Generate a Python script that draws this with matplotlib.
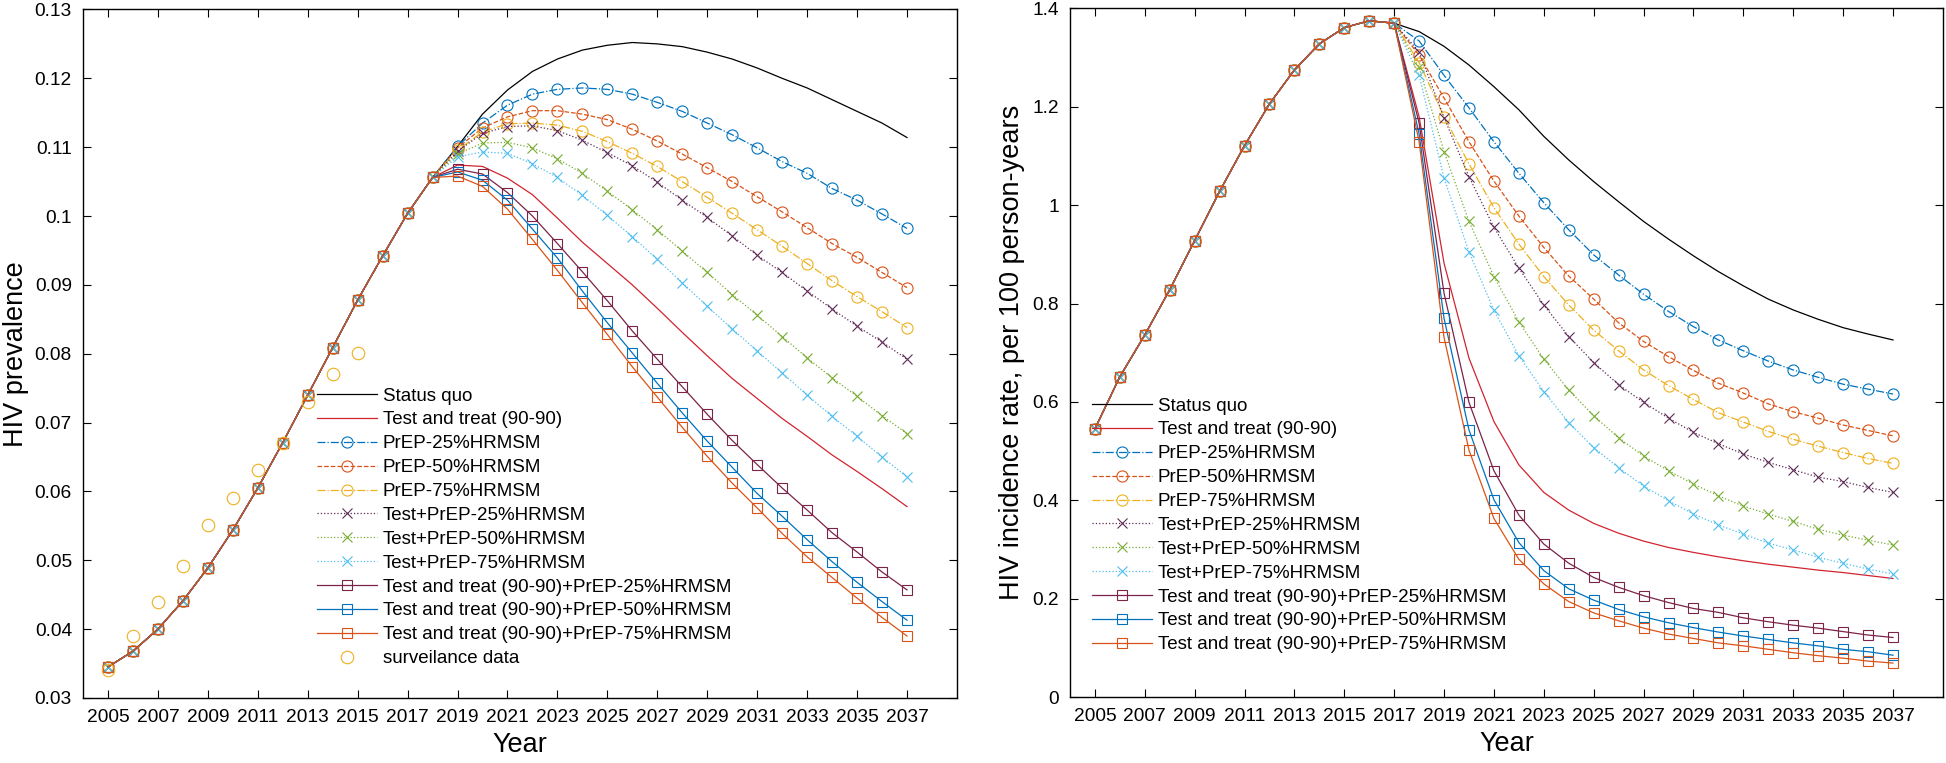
import numpy as np
import matplotlib
matplotlib.use("Agg")
import matplotlib.pyplot as plt
from matplotlib.ticker import FormatStrFormatter

plt.rcParams['font.family'] = ['Liberation Sans', 'DejaVu Sans']

years = np.arange(2005, 2038)

labels = ['Status quo', 'Test and treat (90-90)',
          'PrEP-25%HRMSM', 'PrEP-50%HRMSM', 'PrEP-75%HRMSM',
          'Test+PrEP-25%HRMSM', 'Test+PrEP-50%HRMSM', 'Test+PrEP-75%HRMSM',
          'Test and treat (90-90)+PrEP-25%HRMSM',
          'Test and treat (90-90)+PrEP-50%HRMSM',
          'Test and treat (90-90)+PrEP-75%HRMSM']

# ---- prevalence (left) : shared 2005-2018, then one tail per scenario 2019-2037
prev_base = [0.0345, 0.0368, 0.0400, 0.0441, 0.0489, 0.0544, 0.0605, 0.0671,
             0.0740, 0.0809, 0.0878, 0.0942, 0.1004, 0.1056]
prev_sq = [0.1101, 0.1148, 0.1183, 0.1210, 0.1228, 0.1241, 0.1248, 0.1252, 0.1250, 0.1246,
           0.1238, 0.1228, 0.1215, 0.1200, 0.1186, 0.1169, 0.1152, 0.1135, 0.1114]
prev_tt = [0.1074, 0.1072, 0.1055, 0.1031, 0.0997, 0.0962, 0.0931, 0.0900, 0.0866, 0.0831,
           0.0797, 0.0764, 0.0735, 0.0706, 0.0680, 0.0653, 0.0629, 0.0604, 0.0578]
prev_p25 = [0.1101, 0.1135, 0.1161, 0.1177, 0.1184, 0.1186, 0.1184, 0.1177, 0.1165, 0.1152,
            0.1135, 0.1118, 0.1099, 0.1079, 0.1062, 0.1040, 0.1023, 0.1003, 0.0982]
prev_p50 = [0.1099, 0.1128, 0.1144, 0.1153, 0.1153, 0.1148, 0.1140, 0.1126, 0.1109, 0.1090,
            0.1070, 0.1050, 0.1028, 0.1006, 0.0983, 0.0960, 0.0940, 0.0918, 0.0896]
prev_p75 = [0.1096, 0.1122, 0.1134, 0.1135, 0.1132, 0.1123, 0.1108, 0.1091, 0.1072, 0.1050,
            0.1027, 0.1004, 0.0980, 0.0956, 0.0931, 0.0906, 0.0883, 0.0861, 0.0838]
prev_tp25 = [0.1094, 0.1120, 0.1130, 0.1131, 0.1124, 0.1110, 0.1092, 0.1073, 0.1049, 0.1023,
             0.0998, 0.0971, 0.0943, 0.0918, 0.0891, 0.0865, 0.0840, 0.0817, 0.0792]
prev_tp50 = [0.1090, 0.1106, 0.1107, 0.1099, 0.1083, 0.1062, 0.1036, 0.1009, 0.0980, 0.0949,
             0.0918, 0.0886, 0.0856, 0.0825, 0.0794, 0.0765, 0.0738, 0.0710, 0.0684]
prev_tp75 = [0.1086, 0.1093, 0.1091, 0.1076, 0.1056, 0.1030, 0.1001, 0.0970, 0.0937, 0.0903,
             0.0869, 0.0836, 0.0804, 0.0772, 0.0740, 0.0709, 0.0680, 0.0650, 0.0621]
prev_ttp25 = [0.1068, 0.1061, 0.1034, 0.1000, 0.0960, 0.0919, 0.0877, 0.0833, 0.0792, 0.0752,
              0.0712, 0.0674, 0.0639, 0.0605, 0.0573, 0.0540, 0.0512, 0.0483, 0.0457]
prev_ttp50 = [0.1064, 0.1052, 0.1023, 0.0981, 0.0939, 0.0891, 0.0845, 0.0801, 0.0757, 0.0714,
              0.0673, 0.0635, 0.0597, 0.0564, 0.0530, 0.0498, 0.0468, 0.0440, 0.0413]
prev_ttp75 = [0.1058, 0.1043, 0.1010, 0.0966, 0.0921, 0.0874, 0.0828, 0.0781, 0.0737, 0.0693,
              0.0651, 0.0612, 0.0576, 0.0539, 0.0505, 0.0475, 0.0445, 0.0417, 0.0390]

surv_years = np.arange(2005, 2016)
surv_prev = [0.0341, 0.0390, 0.0440, 0.0491, 0.0551, 0.0590, 0.0631, 0.0670, 0.0730, 0.0770, 0.0801]

# ---- incidence (right) : shared 2005-2017, then tails 2018-2037
inc_base = [0.545, 0.651, 0.736, 0.828, 0.928, 1.028, 1.121, 1.206, 1.275, 1.328,
            1.361, 1.375, 1.370]
inc_sq = [1.353, 1.323, 1.285, 1.241, 1.194, 1.140, 1.092, 1.048, 1.007, 0.967,
          0.931, 0.897, 0.865, 0.836, 0.809, 0.787, 0.768, 0.751, 0.738, 0.726]
inc_tt = [1.180, 0.882, 0.689, 0.560, 0.472, 0.416, 0.380, 0.353, 0.333, 0.317,
          0.304, 0.294, 0.285, 0.277, 0.270, 0.264, 0.258, 0.253, 0.247, 0.241]
inc_p25 = [1.334, 1.264, 1.198, 1.129, 1.065, 1.005, 0.950, 0.899, 0.858, 0.819,
           0.784, 0.753, 0.726, 0.704, 0.683, 0.665, 0.650, 0.636, 0.626, 0.616]
inc_p50 = [1.305, 1.218, 1.129, 1.049, 0.978, 0.914, 0.856, 0.809, 0.761, 0.723,
           0.692, 0.664, 0.638, 0.618, 0.596, 0.580, 0.567, 0.553, 0.542, 0.531]
inc_p75 = [1.290, 1.180, 1.084, 0.995, 0.921, 0.855, 0.797, 0.746, 0.704, 0.665,
           0.633, 0.605, 0.578, 0.559, 0.540, 0.524, 0.510, 0.497, 0.485, 0.475]
inc_tp25 = [1.312, 1.178, 1.058, 0.955, 0.872, 0.797, 0.733, 0.680, 0.635, 0.599,
            0.567, 0.538, 0.515, 0.494, 0.477, 0.462, 0.447, 0.438, 0.426, 0.416]
inc_tp50 = [1.280, 1.109, 0.967, 0.855, 0.763, 0.687, 0.624, 0.572, 0.527, 0.490,
            0.460, 0.433, 0.409, 0.388, 0.372, 0.357, 0.341, 0.329, 0.319, 0.309]
inc_tp75 = [1.264, 1.055, 0.905, 0.786, 0.694, 0.621, 0.558, 0.507, 0.466, 0.429,
            0.399, 0.372, 0.350, 0.331, 0.313, 0.299, 0.284, 0.272, 0.260, 0.250]
inc_ttp25 = [1.167, 0.821, 0.599, 0.460, 0.370, 0.311, 0.272, 0.243, 0.223, 0.206,
             0.192, 0.180, 0.172, 0.161, 0.153, 0.146, 0.140, 0.133, 0.126, 0.121]
inc_ttp50 = [1.145, 0.770, 0.543, 0.401, 0.314, 0.257, 0.220, 0.197, 0.178, 0.163,
             0.151, 0.141, 0.132, 0.124, 0.117, 0.110, 0.104, 0.097, 0.092, 0.085]
inc_ttp75 = [1.129, 0.731, 0.502, 0.363, 0.280, 0.230, 0.194, 0.171, 0.155, 0.140,
             0.128, 0.119, 0.110, 0.104, 0.097, 0.090, 0.084, 0.079, 0.073, 0.069]

prev_tails = [prev_sq, prev_tt, prev_p25, prev_p50, prev_p75, prev_tp25, prev_tp50,
              prev_tp75, prev_ttp25, prev_ttp50, prev_ttp75]
inc_tails = [inc_sq, inc_tt, inc_p25, inc_p50, inc_p75, inc_tp25, inc_tp50,
             inc_tp75, inc_ttp25, inc_ttp50, inc_ttp75]

# colour, linestyle, marker
styles = [('black', '-', None),
          ('#d1242f', '-', None),
          ('#0072BD', '-.', 'o'),
          ('#D95319', '--', 'o'),
          ('#EDB120', '-.', 'o'),
          ('#5e2a55', ':', 'x'),
          ('#77AC30', ':', 'x'),
          ('#4DBEEE', ':', 'x'),
          ('#7b2348', '-', 's'),
          ('#0072BD', '-', 's'),
          ('#D95319', '-', 's')]
msize = {'o': 8, 'x': 7, 's': 7}

fig = plt.figure(figsize=(19.46, 7.63), dpi=100)
ax1 = fig.add_axes([0.04265, 0.0852, 0.4491, 0.9024])
ax2 = fig.add_axes([0.5498, 0.0865, 0.4486, 0.9024])

FS_TICK = 13.8
FS_LEG = 13.5


def draw(ax, base, tails):
    for lab, tail, (c, ls, m) in zip(labels, tails, styles):
        y = list(base) + list(tail)
        ax.plot(years, y, color=c, ls=ls, lw=0.9, marker=m,
                ms=msize.get(m, 0), mfc='none', mec=c, mew=0.8, label=lab)


draw(ax1, prev_base, prev_tails)
ax1.plot(surv_years, surv_prev, ls='none', marker='o', ms=9, mfc='none',
         mec='#EDB120', mew=0.8, label='surveilance data')
draw(ax2, inc_base, inc_tails)

for ax in (ax1, ax2):
    ax.set_xlim(2004, 2039)
    ax.set_xticks(np.arange(2005, 2038, 2))
    ax.tick_params(direction='in', top=True, right=True, length=5.8, width=0.8,
                   labelsize=FS_TICK, pad=8)
    for s in ax.spines.values():
        s.set_linewidth(1.0)
    ax.set_xlabel('Year', fontsize=19.5, labelpad=4)

ax1.set_ylim(0.03, 0.13)
ax1.set_yticks(np.arange(0.03, 0.1301, 0.01))
ax1.yaxis.set_major_formatter(FormatStrFormatter('%g'))
ax1.set_ylabel('HIV prevalence', fontsize=19.5, labelpad=4)

ax2.set_ylim(0, 1.4)
ax2.set_yticks(np.arange(0, 1.401, 0.2))
ax2.yaxis.set_major_formatter(FormatStrFormatter('%g'))
ax2.set_ylabel('HIV incidence rate, per 100 person-years', fontsize=19.5, labelpad=5)

legkw = dict(loc='upper left', frameon=False, fontsize=FS_LEG, borderpad=0,
             borderaxespad=0, handlelength=3.2, handletextpad=0.3,
             labelspacing=0.36, numpoints=1)
ax1.legend(bbox_to_anchor=(0.268, 0.451), **legkw)
ax2.legend(bbox_to_anchor=(0.0252, 0.435), **legkw)

fig.savefig('out.png', dpi=100)
